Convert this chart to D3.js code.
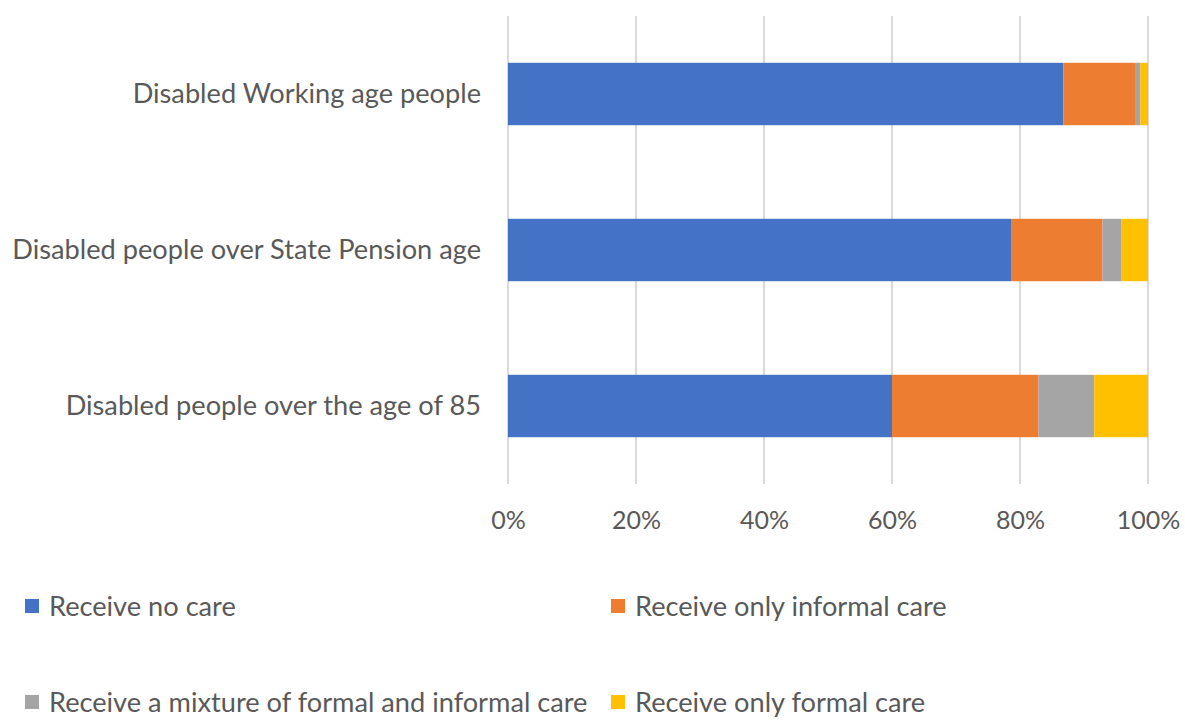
<!DOCTYPE html>
<html>
<head>
<meta charset="utf-8">
<script src="https://cdn.jsdelivr.net/npm/d3@7"></script>
<style>
  html, body { margin: 0; padding: 0; background: #fff; }
  svg { display: block; }
</style>
</head>
<body>
<svg id="chart" width="1185" height="720"></svg>
<script>
const categories = [
  "Disabled Working age people",
  "Disabled people over State Pension age",
  "Disabled people over the age of 85"
];
const seriesNames = [
  "Receive no care",
  "Receive only informal care",
  "Receive a mixture of formal and informal care",
  "Receive only formal care"
];
const noCare       = [86.8, 78.6, 60.0];
const informalOnly = [11.3, 14.3, 22.9];
const mixture      = [0.7, 2.9, 8.7];
const formalOnly   = [1.2, 4.2, 8.4];
const tickValues = [0, 20, 40, 60, 80, 100];
const colors = ["#4472C4", "#ED7D31", "#A5A5A5", "#FFC000"];

const seriesValues = [noCare, informalOnly, mixture, formalOnly];
const rows = categories.map((c, i) => {
  const r = { category: c };
  seriesNames.forEach((s, j) => r[s] = seriesValues[j][i]);
  return r;
});
const stacked = d3.stack().keys(seriesNames)(rows);

const svg = d3.select("#chart");
const font = "Lato, 'Open Sans', sans-serif";
const textColor = "#595959";
const tickFontSize = 25;
const labelFontSize = 27.2;

const x = d3.scaleLinear().domain([0, 100]).range([508, 1148]);
const y = d3.scaleBand().domain(categories).range([16, 484]).paddingInner(0.6).paddingOuter(0.3);

// gridlines
svg.append("g").selectAll("line").data(tickValues).join("line")
  .attr("x1", d => x(d)).attr("x2", d => x(d))
  .attr("y1", 16).attr("y2", 484)
  .attr("stroke", "#d9d9d9").attr("stroke-width", 2);

// bars
svg.append("g").selectAll("g").data(stacked).join("g")
  .attr("fill", (d, i) => colors[i])
  .selectAll("rect").data(d => d).join("rect")
  .attr("x", d => x(d[0]))
  .attr("width", d => x(d[1]) - x(d[0]))
  .attr("y", d => y(d.data.category))
  .attr("height", y.bandwidth());

// x axis labels
const xAxis = d3.axisBottom(x).tickValues(tickValues).tickFormat(d => d + "%").tickSize(0).tickPadding(0);
const gx = svg.append("g").attr("transform", "translate(0,511)").call(xAxis);
gx.select(".domain").remove();
gx.selectAll("text").attr("font-family", font).attr("font-size", tickFontSize).attr("fill", textColor);

// y axis labels
const yAxis = d3.axisLeft(y).tickSize(0).tickPadding(27);
const gy = svg.append("g").attr("transform", "translate(508,0)").call(yAxis);
gy.select(".domain").remove();
gy.selectAll("text").attr("font-family", font).attr("font-size", labelFontSize).attr("fill", textColor);

// legend
const legendPos = [[25, 606], [611, 606], [25, 702], [611, 702]];
const lg = svg.append("g").selectAll("g").data(seriesNames).join("g")
  .attr("transform", (d, i) => `translate(${legendPos[i][0]},${legendPos[i][1]})`);
lg.append("rect").attr("x", 0).attr("y", -7).attr("width", 14).attr("height", 14)
  .attr("fill", (d, i) => colors[i]);
lg.append("text").attr("x", 24).attr("y", 0).attr("dy", "0.35em")
  .attr("font-family", font).attr("font-size", labelFontSize).attr("fill", textColor)
  .text(d => d);
</script>
</body>
</html>
